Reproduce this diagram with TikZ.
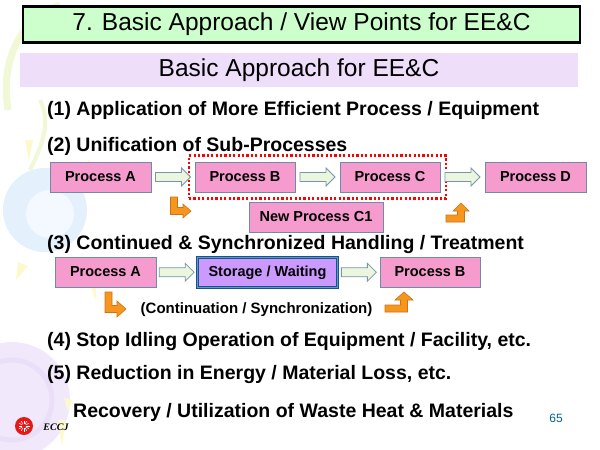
\documentclass[tikz,border=0pt]{standalone}
\usepackage{fontspec}
\setmainfont{Liberation Sans}
\newfontfamily\eccjfont{Liberation Serif}
\usetikzlibrary{fit,calc}

\definecolor{titlegreen}{RGB}{204,255,204}
\definecolor{bandlav}{RGB}{238,222,250}
\definecolor{pinkbox}{RGB}{245,155,205}
\definecolor{pinkline}{RGB}{110,140,170}
\definecolor{storfill}{RGB}{204,153,255}
\definecolor{storline}{RGB}{30,80,140}
\definecolor{storinner}{RGB}{80,160,200}
\definecolor{gfill}{RGB}{236,246,222}
\definecolor{gline}{RGB}{120,150,170}
\definecolor{orfill}{RGB}{247,150,30}
\definecolor{orline}{RGB}{205,115,20}
\definecolor{pagenum}{RGB}{0,100,140}
\definecolor{bgblue}{RGB}{228,240,252}
\definecolor{bgblue2}{RGB}{244,249,255}
\definecolor{bglav}{RGB}{242,232,251}
\definecolor{bglav2}{RGB}{235,222,248}
\definecolor{bgyel}{RGB}{252,249,205}
\definecolor{bggreen}{RGB}{240,248,214}
\definecolor{logored}{RGB}{228,25,25}

\newcommand{\obenddown}[6]{%
 \filldraw[orarrow] ({#1-3.5},#2) -- ({#1+3.5},#2) -- ({#1+3.5},{#3-3.5}) -- (#4,{#3-3.5}) -- (#4,{#3-#6}) -- (#5,#3) -- (#4,{#3+#6}) -- (#4,{#3+3.5}) -- ({#1-3.5},{#3+3.5}) -- cycle;}
\newcommand{\obendup}[6]{%
 \filldraw[orarrow] (#1,#2) -- ({#3+3.5},#2) -- ({#3+3.5},#4) -- ({#3+#6},#4) -- (#3,#5) -- ({#3-#6},#4) -- ({#3-3.5},#4) -- ({#3-3.5},{#2-7}) -- (#1,{#2-7}) -- cycle;}
% hollow block arrow between two named nodes
\newcommand{\garrowbetween}[2]{%
 \draw[garrow] ($(#1.east)!0.5!(#2.west)+(-17.5,-4.5)$) -- ++(26,0) -- ++(0,-4.5)
   -- ++(9,9) -- ++(-9,9) -- ++(0,-4.5) -- ++(-26,0) -- cycle;}

\begin{document}
\begin{tikzpicture}[x=1pt,y=-1pt,
  pbox/.style={draw=pinkline, line width=0.9pt, fill=pinkbox, inner sep=0pt,
    minimum height=30pt, font=\fontsize{14.5}{16}\selectfont\bfseries},
  storbox/.style={draw=storline, line width=1.3pt, double=storinner, double distance=1.1pt,
    fill=storfill, inner sep=0pt, font=\fontsize{14.5}{16}\selectfont\bfseries},
  garrow/.style={draw=gline, fill=gfill, line width=0.8pt, line join=miter},
  orarrow/.style={fill=orfill, draw=orline, line width=0.6pt, line join=miter},
  itemtxt/.style={anchor=base west, inner sep=0pt, font=\fontsize{19.5}{22}\selectfont\bfseries},
  bigtxt/.style={font=\fontsize{24.5}{28}\selectfont}
]
\useasboundingbox (0,0) rectangle (600,450);
\fill[white] (0,0) rectangle (600,450);

% faint background decoration
\draw[bggreen, line width=7pt] (8,110) .. controls (0,60) and (20,20) .. (60,5);
\draw[bggreen, line width=4pt] (30,170) .. controls (45,140) and (50,120) .. (40,100);
\fill[bglav] (12,400) circle (58);
\draw[bglav2, line width=5pt] (12,400) circle (40);
\fill[bgblue] (45,210) circle (42);
\fill[bgblue2] (50,214) circle (24);
\fill[bgyel] (25,140) -- (33,140) -- (29,160) -- cycle;
\fill[bgyel] (88,160) -- (96,166) -- (82,176) -- cycle;
\fill[bgyel] (18,262) -- (28,266) -- (16,280) -- cycle;
\fill[bgyel] (88,280) -- (96,278) -- (96,300) -- cycle;
\fill[bgyel] (58,420) -- (66,420) -- (62,445) -- cycle;
\fill[bgyel] (64,398) -- (72,400) -- (68,412) -- cycle;

% title and band
\node[draw=black, line width=2.6pt, fill=titlegreen, minimum width=557pt, minimum height=36pt,
  inner sep=0pt, bigtxt] (title) at (301.5,24.5) {7. Basic Approach / View Points for EE\&C};
\node[fill=bandlav, minimum width=558pt, minimum height=34pt, inner sep=0pt, bigtxt]
  (band) at (299,70) {Basic Approach for EE\&C};

% item lines
\node[itemtxt] (t1) at (47,115) {(1) Application of More Efficient Process / Equipment};
\node[itemtxt] (t2) at (47,151) {(2) Unification of Sub-Processes};
\node[itemtxt] (t3) at (47,249) {(3) Continued \& Synchronized Handling / Treatment};
\node[itemtxt] (t4) at (47,346) {(4) Stop Idling Operation of Equipment / Facility, etc.};
\node[itemtxt] (t5) at (47,379) {(5) Reduction in Energy / Material Loss, etc.};
\node[itemtxt] (t6) at (73,417) {Recovery / Utilization of Waste Heat \& Materials};

% row 1
\node[pbox, minimum width=101pt] (a1) at (100.5,177) {Process A};
\node[pbox, minimum width=100pt] (b1) at (245,177) {Process B};
\node[pbox, minimum width=100pt] (c1) at (390,177) {Process C};
\node[pbox, minimum width=101pt] (d1) at (535.5,177) {Process D};
\node[pbox, minimum width=134pt] (n1) at (316,217) {New Process C1};
\node[fit=(b1)(c1), inner xsep=5.5pt, inner ysep=6pt, draw=red, line width=2.2pt,
  dash pattern=on 2.2pt off 2.2pt] (grp) {};
\garrowbetween{a1}{b1}
\garrowbetween{b1}{c1}
\garrowbetween{c1}{d1}
\obenddown{174}{197}{211}{183}{191}{7}
\obendup{446}{222}{461}{211}{203}{8}

% row 2
\node[pbox, minimum width=101pt] (a2) at (105.5,272) {Process A};
\node[storbox, minimum width=140pt, minimum height=30pt] (s2) at (267.5,272.5) {Storage / Waiting};
\node[pbox, minimum width=100pt] (b2) at (430,272) {Process B};
\garrowbetween{a2}{s2}
\garrowbetween{s2}{b2}
\obenddown{108.5}{292}{309}{117}{126}{8}
\obendup{385}{312}{404}{300}{292}{9}
\node[font=\fontsize{15}{17}\selectfont\bfseries, inner sep=0pt] (cs) at (256.5,310)
  {(Continuation / Synchronization)};

% logo and page number
\fill[logored] (24,426) circle (9);
\foreach \ang in {0,30,...,330}{
  \draw[white, line width=0.5pt] ($(24,426)+(\ang:2)$) -- ($(24,426)+(\ang:5.5)$);
}
\node[inner sep=0pt, font=\eccjfont\bfseries\itshape\fontsize{10}{12}\selectfont] (logo) at (56,427) {ECCJ};
\node[inner sep=0pt, text=pagenum, font=\fontsize{12}{14}\selectfont] (pg) at (556,418) {65};
\end{tikzpicture}
\end{document}
